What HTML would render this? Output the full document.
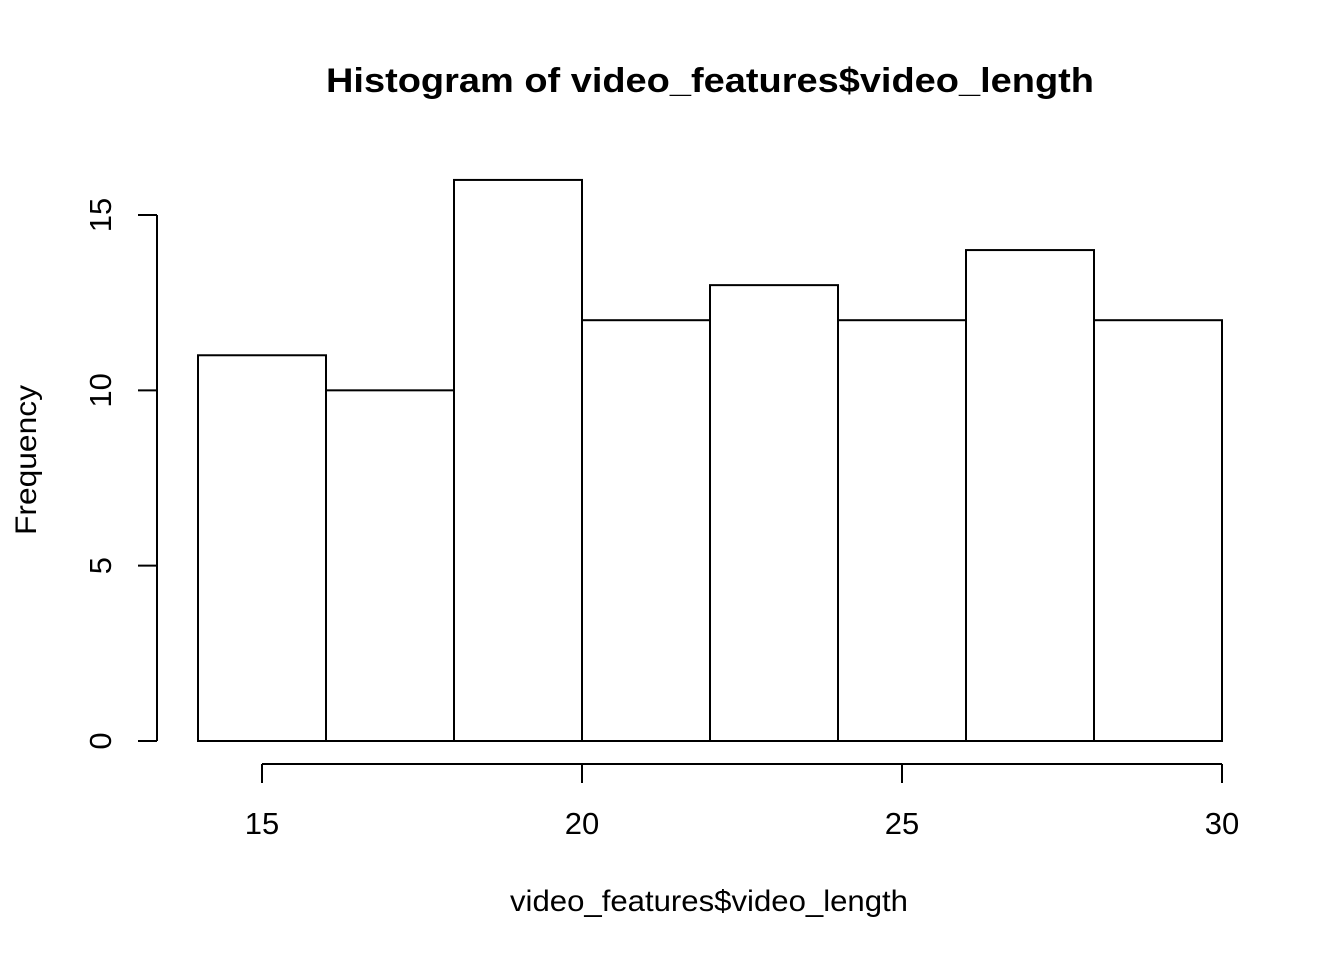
<!DOCTYPE html>
<html>
<head>
<meta charset="utf-8">
<style>
html,body{margin:0;padding:0;background:#fff;}
svg{display:block;font-family:"Liberation Sans",Arial,sans-serif;}
</style>
</head>
<body>
<svg id="chart" width="1344" height="960" viewBox="0 0 1344 960">
  <text x="326" y="92" textLength="768" lengthAdjust="spacingAndGlyphs" font-size="34" font-weight="bold">Histogram of video_features$video_length</text>
  <text x="510" y="911" textLength="398" lengthAdjust="spacingAndGlyphs" font-size="30">video_features$video_length</text>
  <text transform="translate(36,535) rotate(-90)" textLength="150" lengthAdjust="spacingAndGlyphs" font-size="30">Frequency</text>
  <g id="bars"></g>
  <g id="xaxis"></g>
  <g id="yaxis"></g>
</svg>
<script>
const binStarts = [14, 16, 18, 20, 22, 24, 26, 28];
const binWidth = 2;
const counts = [11, 10, 16, 12, 13, 12, 14, 12];
const xTicks = [15, 20, 25, 30];
const yTicks = [0, 5, 10, 15];

const NS = "http://www.w3.org/2000/svg";
function xs(v){ return 262 + (v - 15) * 64; }
function ys(v){ return 741 - v * (526 / 15); }
function mk(tag, attrs, parent){
  const e = document.createElementNS(NS, tag);
  for (const k in attrs) e.setAttribute(k, attrs[k]);
  parent.appendChild(e);
  return e;
}
const bars = document.getElementById('bars');
binStarts.forEach((b, i) => {
  const x0 = xs(b), x1 = xs(b + binWidth), y = ys(counts[i]);
  const r = mk('rect', {x: x0, y: y, width: x1 - x0, height: ys(0) - y, fill: '#fff', stroke: '#000', 'stroke-width': 2}, bars);
  
  
});
const xa = document.getElementById('xaxis');
const xl = mk('line', {x1: xs(xTicks[0]), x2: xs(xTicks[xTicks.length-1]), y1: 764, y2: 764, stroke: '#000', 'stroke-width': 2}, xa);


xTicks.forEach(t => {
  const l = mk('line', {x1: xs(t), x2: xs(t), y1: 764, y2: 783, stroke: '#000', 'stroke-width': 2}, xa);
  
  
  const tx = mk('text', {x: xs(t), y: 834, 'text-anchor': 'middle', 'font-size': 31}, xa);
  tx.textContent = t;
  
  
});
const ya = document.getElementById('yaxis');
const yl = mk('line', {x1: 157, x2: 157, y1: ys(yTicks[0]), y2: ys(yTicks[yTicks.length-1]), stroke: '#000', 'stroke-width': 2}, ya);


yTicks.forEach(t => {
  const l = mk('line', {x1: 138, x2: 157, y1: ys(t), y2: ys(t), stroke: '#000', 'stroke-width': 2}, ya);
  
  
  const tx = mk('text', {transform: 'translate(111,' + ys(t) + ') rotate(-90)', 'text-anchor': 'middle', 'font-size': 31}, ya);
  tx.textContent = t;
  
  
});
</script>
</body>
</html>
